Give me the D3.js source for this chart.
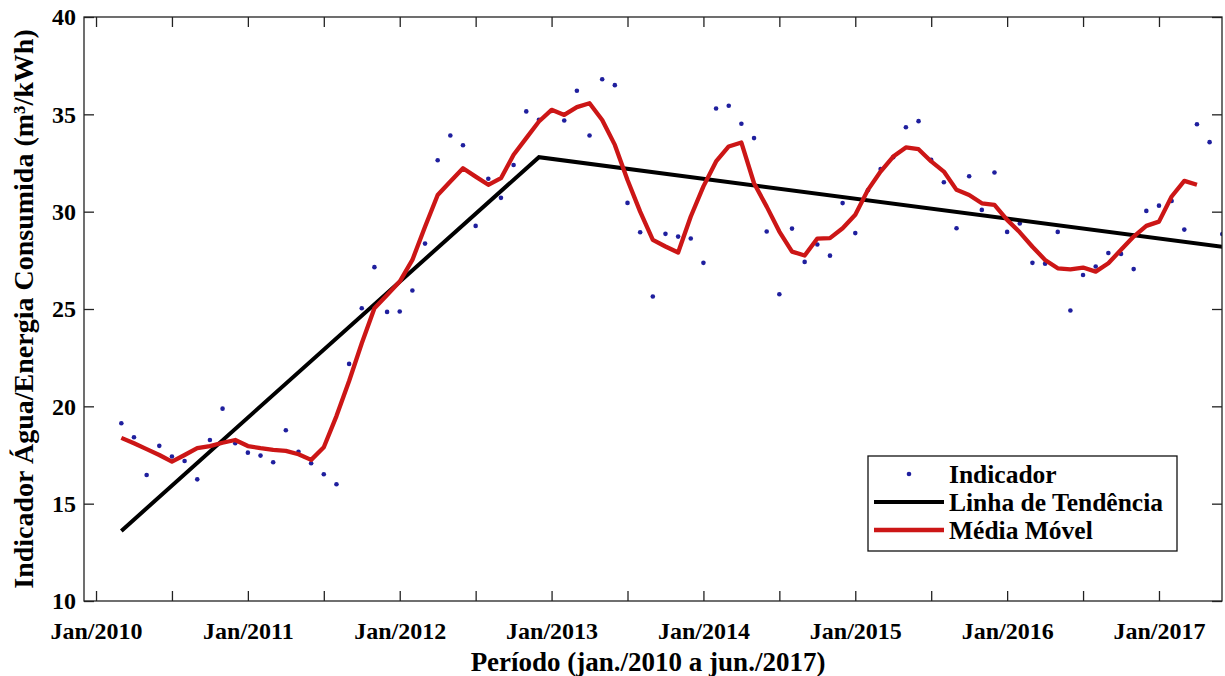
<!DOCTYPE html>
<html><head><meta charset="utf-8">
<script src="https://cdn.jsdelivr.net/npm/d3@7"></script>
<style>body{margin:0;background:#fff} svg{display:block}</style>
</head><body><svg id="c" width="1225" height="676"></svg>
<script>
// months counted from Jan/2010 (0 = Jan/2010)
const firstMonth = 2;
const indicador = [
  19.13, 18.41, 16.47, 17.97, 17.42, 17.19, 16.25, 18.27, 19.88, 18.10,
  17.62, 17.47, 17.13, 18.77, 17.67, 17.08, 16.51, 16.00, 22.18, 25.04,
  27.15, 24.85, 24.87, 25.95, 28.36, 32.64, 33.91, 33.41, 29.27, 31.69,
  30.71, 32.40, 35.15, 34.72, 35.17, 34.68, 36.21, 33.91, 36.80, 36.50,
  30.45, 28.94, 25.64, 28.86, 28.72, 28.62, 27.37, 35.30, 35.44, 34.52,
  33.78, 28.98, 25.76, 29.13, 27.42, 28.31, 27.74, 30.44, 28.90, 31.10,
  32.19, 32.80, 34.34, 34.65, 32.66, 31.51, 29.15, 31.82, 30.09, 32.01,
  28.96, 29.39, 27.37, 27.33, 28.96, 24.92, 26.75, 27.18, 27.88, 27.83,
  27.05, 30.04, 30.31, 30.55, 29.08, 34.49, 33.57, 28.85
];
const mediaMovel = [
  18.38, 18.10, 17.80, 17.50, 17.16, 17.50, 17.85, 17.96, 18.13, 18.27,
  17.96, 17.85, 17.76, 17.71, 17.54, 17.25, 17.90, 19.50, 21.30, 23.24,
  25.04, 25.72, 26.41, 27.52, 29.23, 30.86, 31.55, 32.23, 31.80, 31.38,
  31.72, 32.92, 33.78, 34.63, 35.23, 34.97, 35.37, 35.57, 34.71, 33.43,
  31.63, 30.00, 28.55, 28.21, 27.90, 29.75, 31.30, 32.58, 33.35, 33.55,
  31.46, 30.26, 28.98, 27.95, 27.75, 28.62, 28.64, 29.15, 29.84, 31.12,
  32.06, 32.83, 33.30, 33.21, 32.58, 32.06, 31.12, 30.86, 30.43, 30.35,
  29.58, 28.94, 28.20, 27.52, 27.09, 27.04, 27.13, 26.92, 27.35, 28.04,
  28.72, 29.27, 29.49, 30.78, 31.58, 31.38
];
const trendMonths = [2, 35, 89];
const trendValues = [13.6, 32.8, 28.2];
const xTickMonths = [0, 6, 12, 18, 24, 30, 36, 42, 48, 54, 60, 66, 72, 78, 84];
const xTickLabels = ["Jan/2010", "", "Jan/2011", "", "Jan/2012", "", "Jan/2013", "", "Jan/2014", "", "Jan/2015", "", "Jan/2016", "", "Jan/2017"];
const yTicks = [10, 15, 20, 25, 30, 35, 40];
const legendLabels = ["Indicador", "Linha de Tendência", "Média Móvel"];

const FONT = "'Liberation Serif','Times New Roman',serif";
const svg = d3.select("#c");
const L = 84, R = 1222, T = 17, B = 601;
const x = d3.scaleLinear().domain([-0.95, 88.98]).range([L, R]);
const y = d3.scaleLinear().domain([10, 40]).range([B, T]);

const pts = indicador.map((v, i) => ({m: firstMonth + i, v}));
const ma = mediaMovel.map((v, i) => ({m: firstMonth + i, v}));
const tr = trendMonths.map((m, i) => ({m, v: trendValues[i]}));

svg.append("defs").append("clipPath").attr("id", "clip")
  .append("rect").attr("x", L).attr("y", T).attr("width", R - L).attr("height", B - T);

const plot = svg.append("g").attr("clip-path", "url(#clip)");
const line = d3.line().x(d => x(d.m)).y(d => y(d.v));

plot.selectAll("circle.pt").data(pts).join("circle")
  .attr("class", "pt").attr("cx", d => x(d.m)).attr("cy", d => y(d.v))
  .attr("r", 2.3).attr("fill", "#1f1f9e");

plot.append("path").datum(tr).attr("d", line)
  .attr("fill", "none").attr("stroke", "#000").attr("stroke-width", 4);

plot.append("path").datum(ma).attr("d", line)
  .attr("fill", "none").attr("stroke", "#cc1616").attr("stroke-width", 4.3)
  .attr("stroke-linejoin", "round");

// axes
const fmtX = m => xTickLabels[xTickMonths.indexOf(m)];
function styleAxis(g) {
  g.select(".domain").remove();
  g.selectAll(".tick line").attr("stroke", "#222").attr("stroke-width", 1.3);
  g.selectAll(".tick text").attr("font-family", FONT).attr("font-weight", "bold")
    .attr("font-size", 24).attr("fill", "#000");
}
svg.append("g").attr("transform", `translate(0,${B})`)
  .call(d3.axisBottom(x).tickValues(xTickMonths).tickFormat(fmtX).tickSizeInner(-10).tickSizeOuter(0).tickPadding(21))
  .call(styleAxis);
svg.append("g").attr("transform", `translate(0,${T})`)
  .call(d3.axisTop(x).tickValues(xTickMonths).tickFormat("").tickSizeInner(-10).tickSizeOuter(0))
  .call(styleAxis);
svg.append("g").attr("transform", `translate(${L},0)`)
  .call(d3.axisLeft(y).tickValues(yTicks).tickFormat(d3.format("d")).tickSizeInner(-10).tickSizeOuter(0).tickPadding(8))
  .call(styleAxis);
svg.append("g").attr("transform", `translate(${R},0)`)
  .call(d3.axisRight(y).tickValues(yTicks).tickFormat("").tickSizeInner(-10).tickSizeOuter(0))
  .call(styleAxis);

svg.append("rect").attr("x", L).attr("y", T).attr("width", R - L).attr("height", B - T)
  .attr("fill", "none").attr("stroke", "#222").attr("stroke-width", 1.3);

// axis titles
svg.append("text").attr("x", (L + R) / 2 - 5).attr("y", 671).attr("text-anchor", "middle")
  .attr("font-family", FONT).attr("font-weight", "bold").attr("font-size", 27)
  .text("Período (jan./2010 a jun./2017)");
svg.append("text").attr("transform", `translate(33,${(T + B) / 2}) rotate(-90)`)
  .attr("text-anchor", "middle")
  .attr("font-family", FONT).attr("font-weight", "bold").attr("font-size", 28)
  .text("Indicador Água/Energia Consumida (m³/kWh)");

// legend
const lg = svg.append("g");
lg.append("rect").attr("x", 868).attr("y", 456).attr("width", 309).attr("height", 95)
  .attr("fill", "#fff").attr("stroke", "#111").attr("stroke-width", 1.3);
const rows = [474, 502, 530];
lg.append("circle").attr("cx", 909).attr("cy", rows[0]).attr("r", 2.3).attr("fill", "#1f1f9e");
lg.append("line").attr("x1", 874).attr("x2", 944).attr("y1", rows[1]).attr("y2", rows[1])
  .attr("stroke", "#000").attr("stroke-width", 4);
lg.append("line").attr("x1", 874).attr("x2", 944).attr("y1", rows[2]).attr("y2", rows[2])
  .attr("stroke", "#cc1616").attr("stroke-width", 4.3);
lg.selectAll("text").data(legendLabels).join("text")
  .attr("x", 949).attr("y", (d, i) => rows[i] + 9)
  .attr("font-family", FONT).attr("font-weight", "bold").attr("font-size", 25.5)
  .text(d => d);
</script></body></html>
